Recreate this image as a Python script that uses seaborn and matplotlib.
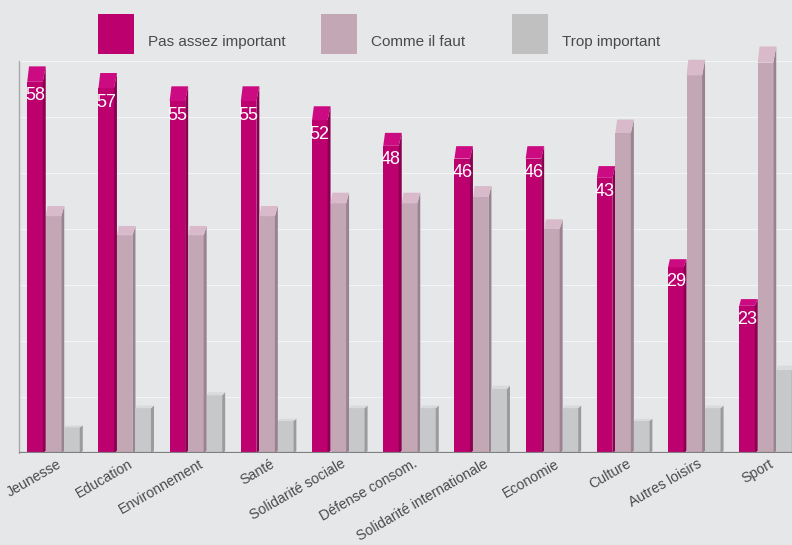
import matplotlib
matplotlib.use("Agg")
import matplotlib.pyplot as plt
import seaborn as sns
import pandas as pd
from matplotlib.patches import Polygon, Rectangle

categories = ["Jeunesse", "Education", "Environnement", "Santé", "Solidarité sociale",
              "Défense consom.", "Solidarité internationale", "Economie", "Culture",
              "Autres loisirs", "Sport"]
series_names = ["Pas assez important", "Comme il faut", "Trop important"]
pas_assez = [58, 57, 55, 55, 52, 48, 46, 46, 43, 29, 23]
comme_il_faut = [37, 34, 34, 37, 39, 39, 40, 35, 50, 59, 61]
trop = [4, 7, 9, 5, 7, 7, 10, 7, 5, 7, 13]

FONT = ['Liberation Sans Narrow', 'Liberation Sans', 'DejaVu Sans']
BG = "#E6E7E9"
front_cols = ["#BC006E", "#C4A7B5", "#C7C8CA"]
cap_cols = ["#CC0A82", "#D8BACA", "#D9DADC"]
side_cols = ["#8C0052", "#9A8391", "#9B9B9D"]
legend_cols = ["#BC006E", "#C4A7B5", "#C0C0C0"]

sns.set_theme(style="white")
plt.rcParams['font.family'] = FONT

df = pd.DataFrame({
    "cat": categories * 3,
    "serie": [series_names[0]] * 11 + [series_names[1]] * 11 + [series_names[2]] * 11,
    "val": pas_assez + comme_il_faut + trop,
})

W, H = 792, 545
fig = plt.figure(figsize=(W / 100, H / 100), dpi=100, facecolor=BG)
ax_top_px = 40
base_px = 453
left_px = 19
ax = fig.add_axes([left_px / W, (H - base_px) / H, (W - left_px) / W, (base_px - ax_top_px) / H])
ax.set_facecolor(BG)

sns.barplot(data=df, x="cat", y="val", hue="serie", hue_order=series_names,
            palette=front_cols, width=0.78, gap=0, saturation=1, errorbar=None,
            legend=False, ax=ax, linewidth=0)

px_per_unit_y = 6.4
px_per_cat = 71.2
xl = (left_px - 55) / px_per_cat
xr = (W - 55) / px_per_cat
ax.set_xlim(xl, xr)
ax.set_ylim(0, (base_px - ax_top_px) / px_per_unit_y)
ax.axis('off')

# gridlines on back wall
grid_step = 56 / px_per_unit_y
for k in range(1, 8):
    ax.axhline(grid_step * k, color="white", lw=0.8, alpha=0.55, zorder=1)
ax.plot([xl + 0.005, xl + 0.005], [0, grid_step * 7], color="#A8A8A8", lw=1.0, zorder=1, clip_on=False)

sd = 3 / px_per_cat  # side depth in x units
vals = [pas_assez, comme_il_faut, trop]
for j, cont in enumerate(ax.containers):
    for i, rect in enumerate(cont.patches):
        x0 = rect.get_x()
        w = rect.get_width()
        h = rect.get_height()
        wf = w - sd
        rect.set_width(wf)
        rect.set_zorder(2 + j)
        d = 0.039 * h + 0.15
        cap = Polygon([(x0, h), (x0 + wf, h), (x0 + wf + sd, h + d), (x0 + sd * 0.6, h + d)],
                      closed=True, facecolor=cap_cols[j], edgecolor="none", zorder=2 + j + 0.5)
        side = Polygon([(x0 + wf, 0), (x0 + wf + sd, 0.3), (x0 + wf + sd, h + d), (x0 + wf, h)],
                       closed=True, facecolor=side_cols[j], edgecolor="none", zorder=2 + j + 0.5)
        ax.add_patch(side)
        ax.add_patch(cap)
        if j == 0:
            ax.text(x0 + wf / 2, h - 14 / px_per_unit_y, str(vals[j][i]), color="white",
                    ha="center", va="center", fontsize=13, zorder=10)

ax.axhline(0, color="#7F7F7F", lw=1.6, zorder=10)

# category labels
for i, c in enumerate(categories):
    ax.text(i + 5 / px_per_cat, -10 / px_per_unit_y, c, rotation=30, rotation_mode="anchor",
            ha="right", va="center", fontsize=10.2, color="#4A4A4A", clip_on=False)

# legend
leg_x = [98, 321, 512]
for k, name in enumerate(series_names):
    fig.patches.append(Rectangle((leg_x[k] / W, 1 - 54 / H), 36 / W, 40 / H,
                                 transform=fig.transFigure, facecolor=legend_cols[k],
                                 edgecolor="none"))
    fig.text((leg_x[k] + 50) / W, 1 - 42 / H, name, va="center", ha="left",
             fontsize=11, color="#4A4A4A")

fig.savefig("out.png", dpi=100, facecolor=BG)
